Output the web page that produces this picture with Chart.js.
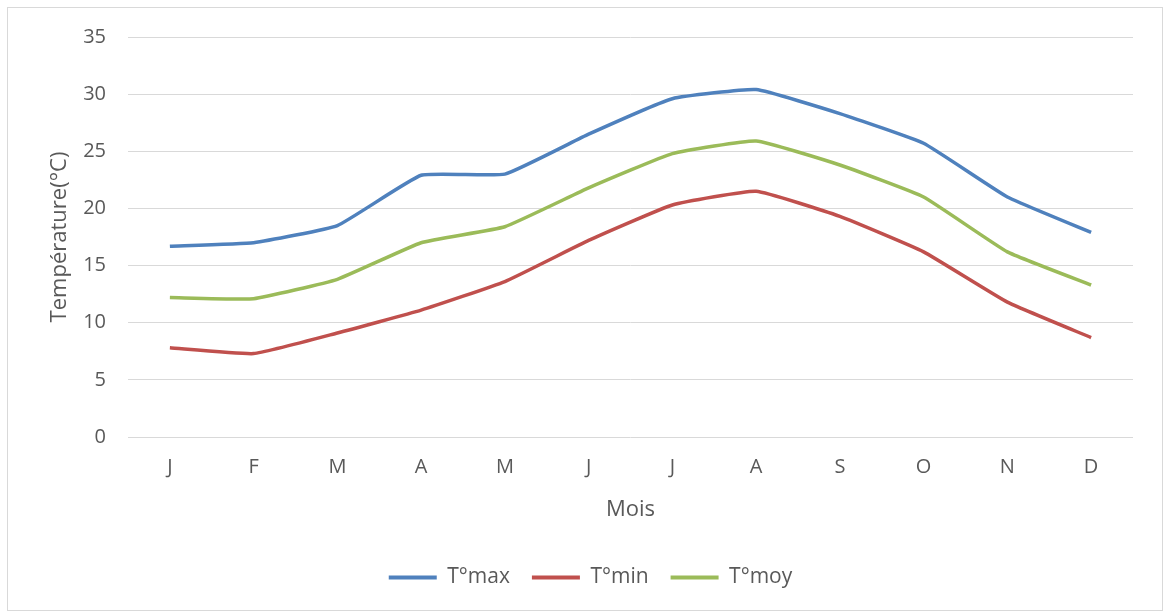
<!DOCTYPE html>
<html>
<head>
<meta charset="utf-8">
<script src="https://cdn.jsdelivr.net/npm/chart.js@4"></script>
<style>
  html, body { margin: 0; padding: 0; background: #ffffff; }
  #frame {
    position: absolute; left: 7px; top: 7px;
    width: 1156px; height: 604px;
    box-sizing: border-box;
    border: 1px solid #d9d9d9;
  }
  #frame canvas { display: block; }
</style>
</head>
<body>
<div id="frame"><canvas id="chart" width="1154" height="602"></canvas></div>
<script>
// Monthly temperatures (°C)
const months = ['J', 'F', 'M', 'A', 'M', 'J', 'J', 'A', 'S', 'O', 'N', 'D'];
const tMax = [16.7, 17.0, 18.5, 22.9, 23.0, 26.5, 29.6, 30.4, 28.3, 25.7, 21.0, 17.9];
const tMin = [7.8, 7.3, 9.1, 11.1, 13.6, 17.2, 20.3, 21.5, 19.3, 16.2, 11.8, 8.7];
const tMoy = [12.2, 12.1, 13.8, 17.0, 18.4, 21.8, 24.8, 25.9, 23.8, 21.0, 16.2, 13.3];
const seriesNames = ['T°max', 'T°min', 'T°moy'];
const seriesColors = ['#4F81BD', '#C0504D', '#9BBB59'];

const FONT = "'Open Sans', 'Liberation Sans', sans-serif";
const TEXT = '#595959';

const makeSet = (i, data) => ({
  label: seriesNames[i],
  data: data,
  borderColor: seriesColors[i],
  backgroundColor: seriesColors[i],
  borderWidth: 3.5,
  pointRadius: 0,
  pointHoverRadius: 0,
  tension: 0.12,
  fill: false
});

// Nudges the legend row a little to the right of centre
const legendShift = {
  id: 'legendShift',
  afterLayout(chart) {
    const lg = chart.legend;
    if (lg) { lg.left += 20; lg.right += 20; }
  }
};

new Chart(document.getElementById('chart'), {
  type: 'line',
  data: {
    labels: months,
    datasets: [makeSet(0, tMax), makeSet(1, tMin), makeSet(2, tMoy)]
  },
  plugins: [legendShift],
  options: {
    responsive: false,
    animation: false,
    layout: { padding: { top: 29, right: 29, left: 0, bottom: 12 } },
    plugins: {
      tooltip: { enabled: false },
      legend: {
        position: 'bottom',
        labels: {
          font: { family: FONT, size: 21 },
          color: TEXT,
          boxWidth: 48,
          boxHeight: 4,
          padding: 22,
          generateLabels(chart) {
            const items = Chart.defaults.plugins.legend.labels.generateLabels(chart);
            items.forEach(it => { it.lineWidth = 0; });
            return items;
          }
        }
      }
    },
    scales: {
      x: {
        offset: true,
        grid: { display: false, drawTicks: false },
        border: { display: false },
        ticks: { font: { family: FONT, size: 20 }, color: TEXT, padding: 18 },
        title: {
          display: true, text: 'Mois',
          font: { family: FONT, size: 22 }, color: TEXT,
          padding: { top: 0, bottom: 22 }
        },
        afterFit(scale) { scale.height = 108; }
      },
      y: {
        min: 0, max: 35,
        ticks: { stepSize: 5, font: { family: FONT, size: 20 }, color: TEXT, padding: 22 },
        grid: { color: '#d9d9d9', lineWidth: 1, drawTicks: false },
        border: { display: false },
        title: {
          display: true, text: 'Température(°C)',
          font: { family: FONT, size: 22 }, color: TEXT,
          padding: { top: 39, bottom: 0 }
        },
        afterFit(scale) {
          scale.width = 120;
          scale.paddingTop = 0;
          scale.paddingBottom = 0;
        }
      }
    }
  }
});
</script>
</body>
</html>
